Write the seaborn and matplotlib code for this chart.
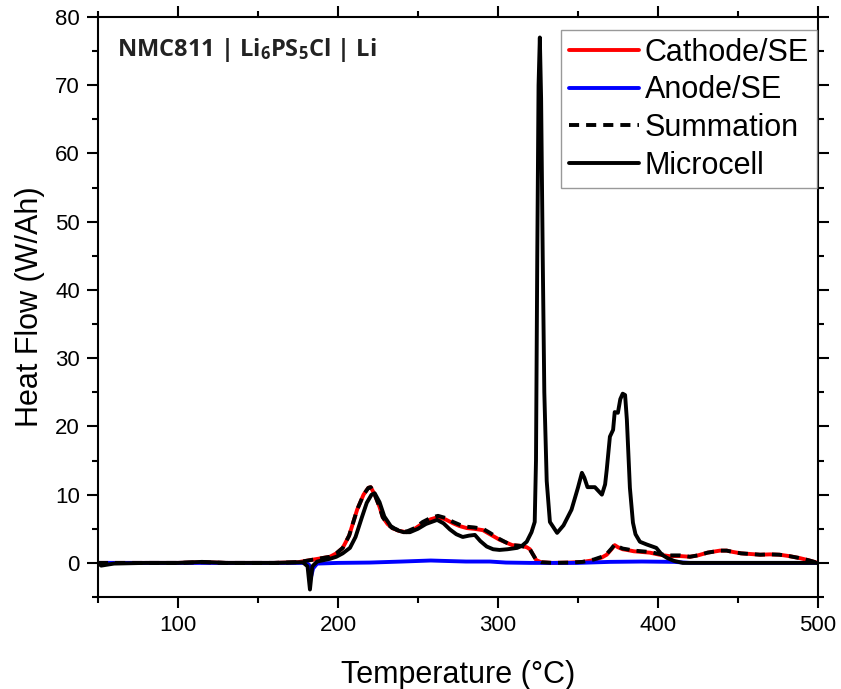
import pandas as pd
import seaborn as sns
import matplotlib.pyplot as plt
from matplotlib.ticker import MultipleLocator

# Microcell (black solid)
micro_x = [50, 52, 60, 80, 100, 115, 130, 160, 178, 181, 182.5, 184, 187, 195, 199, 203,
           207.5, 211, 215, 218, 221, 223, 226, 229, 233, 237, 241, 245, 250, 255, 262,
           266, 270, 274, 278, 282, 285.6, 289, 293, 297, 301, 306, 312, 315, 318, 321,
           323, 323.8, 324.6, 325.4, 326.2, 327, 328, 329, 330.5, 332.5, 337, 341, 346,
           350, 352.5, 354, 356, 360.6, 363, 365, 367, 368, 370, 372, 373, 375, 376.5,
           378, 379.5, 380.6, 382.5, 384.4, 386, 388.75, 393, 399, 402.5, 406, 410,
           415.6, 430, 460, 500]
micro_y = [0, -0.4, -0.1, 0, 0, 0.15, 0, 0, 0.1, -0.5, -3.9, -0.5, 0.2, 0.6, 0.9, 1.4,
           2.2, 3.8, 6.7, 8.8, 10.0, 10.2, 8.9, 6.8, 5.4, 4.8, 4.5, 4.5, 5.0, 5.7, 6.3,
           5.8, 4.9, 4.2, 3.8, 4.0, 4.1, 3.2, 2.4, 2.0, 1.9, 2.0, 2.2, 2.5, 3.1, 4.5,
           6.0, 15, 45, 70, 77, 68, 45, 25, 12, 6.0, 4.4, 5.5, 7.8,
           11, 13.2, 12.5, 11.1, 11.1, 10.5, 10.0, 11.5, 13.6, 18.5, 19.5, 22.1, 22, 24,
           24.8, 24.6, 21, 11, 5.9, 4.2, 3.1, 2.7, 2.2, 1.2, 0.7, 0.3,
           0.0, 0, 0, 0]

# Cathode/SE (red) and Summation (black dashed)
cath_x = [50, 60, 80, 100, 115, 130, 160, 175, 180, 185, 190, 195, 199, 203, 207, 212,
          216, 219, 220.5, 223, 226, 228, 231, 234, 238, 243, 248, 253, 258, 262.5, 267,
          272, 276, 280.6, 285, 290.6, 295, 301, 305, 309, 314, 318, 320, 322, 324, 327,
          334, 345, 353, 360, 365, 368, 371, 373, 375, 378, 380.6, 385, 390, 395, 401,
          407, 414, 420, 425, 431, 438.75, 443, 447, 452, 458, 464, 470, 476, 482,
          488.75, 494, 500]
cath_y = [0, 0, 0, 0, 0.1, 0, 0, 0.1, 0.3, 0.5, 0.7, 0.9, 1.4, 2.2, 4.0, 7.8,
          10.0, 11.0, 11.1, 10.0, 8.2, 6.7, 5.7, 5.1, 4.7, 4.5, 5.0, 5.8, 6.4, 6.7, 6.4,
          5.8, 5.4, 5.1, 5.0, 4.8, 4.2, 3.4, 3.0, 2.6, 2.5, 2.3, 2.0, 1.2, 0.4, 0.1,
          0.0, 0.05, 0.15, 0.4, 0.8, 1.2, 2.0, 2.6, 2.3, 2.0, 1.9, 1.7, 1.6, 1.5, 1.2,
          1.0, 1.0, 0.9, 1.1, 1.5, 1.8, 1.8, 1.6, 1.4, 1.3, 1.2, 1.25, 1.2, 1.0,
          0.7, 0.4, 0.0]
sum_y = [0, 0, 0, 0, 0.1, 0, 0, 0.1, 0.3, 0.5, 0.7, 0.9, 1.4, 2.2, 4.0, 7.8,
         10.0, 11.0, 11.1, 10.0, 8.2, 6.7, 5.7, 5.1, 4.8, 4.6, 5.1, 6.0, 6.6, 6.9, 6.6,
         6.0, 5.6, 5.3, 5.2, 5.0, 4.4, 3.5, 3.0, 2.6, 2.5, 2.3, 2.0, 1.2, 0.4, 0.1,
         0.0, 0.05, 0.15, 0.5, 0.9, 1.3, 2.1, 2.7, 2.4, 2.1, 2.0, 1.8, 1.7, 1.6, 1.3,
         1.1, 1.1, 0.9, 1.1, 1.5, 1.8, 1.8, 1.6, 1.4, 1.3, 1.2, 1.25, 1.2, 1.0,
         0.7, 0.4, 0.0]

# Anode/SE (blue)
anode_x = [50, 100, 150, 180, 182, 183, 184.5, 187, 200, 220, 240, 258, 265, 280, 295,
           305, 320, 350, 370, 390, 410, 420, 450, 500]
anode_y = [0, 0, 0, 0, -0.3, -2.2, -0.8, -0.1, 0.0, 0.05, 0.2, 0.35, 0.3, 0.2, 0.2,
           0.05, 0.0, 0.0, 0.15, 0.2, 0.15, 0.0, 0, 0]

sns.set_style("ticks")
plt.rcParams['font.family'] = ['Liberation Sans', 'DejaVu Sans']
plt.rcParams['mathtext.fontset'] = 'custom'
plt.rcParams['mathtext.bf'] = 'Open Sans:bold'
plt.rcParams['mathtext.default'] = 'bf'

fig = plt.figure(figsize=(8.41, 6.89), dpi=100)
ax = fig.add_axes([0.1165, 0.1335, 0.856, 0.8418])

lw = 2.8
sns.lineplot(x=cath_x, y=cath_y, color='red', lw=lw, label='Cathode/SE', ax=ax, estimator=None)
sns.lineplot(x=anode_x, y=anode_y, color='blue', lw=lw, label='Anode/SE', ax=ax, estimator=None)
sns.lineplot(x=cath_x, y=sum_y, color='black', lw=lw, ls=(0, (2.6, 1.8)), label='Summation',
             ax=ax, estimator=None)
sns.lineplot(x=micro_x, y=micro_y, color='black', lw=lw, label='Microcell', ax=ax, estimator=None)

ax.set_xlim(50, 500)
ax.set_ylim(-5, 80)
ax.xaxis.set_major_locator(MultipleLocator(100))
ax.xaxis.set_minor_locator(MultipleLocator(50))
ax.yaxis.set_major_locator(MultipleLocator(10))
ax.yaxis.set_minor_locator(MultipleLocator(5))
ax.tick_params(which='both', direction='out', top=True, right=True, width=1.5,
               labelsize=16, color='black', labelcolor='black')
ax.tick_params(which='major', length=8, pad=5)
ax.tick_params(which='minor', length=4)
for s in ax.spines.values():
    s.set_linewidth(1.5)
    s.set_color('black')
    s.set_visible(True)

ax.set_xlabel('Temperature (°C)', fontsize=22, labelpad=17, color='black')
ax.set_ylabel('Heat Flow (W/Ah)', fontsize=22, labelpad=7, color='black')

ax.text(0.026, 0.967, 'NMC811 | Li$_6$PS$_5$Cl | Li', transform=ax.transAxes,
        fontsize=17, fontweight='bold', family='Open Sans', va='top', ha='left', color='#222222')

leg = ax.legend(loc='upper right', bbox_to_anchor=(0.9986, 0.9776), borderaxespad=0,
                fontsize=22, frameon=True, fancybox=False, edgecolor='#808080',
                handlelength=2.3, handletextpad=0.2, labelspacing=0.25, borderpad=0.25)
leg.get_frame().set_linewidth(1.0)
for t in leg.get_texts():
    t.set_color('black')

plt.savefig('out.png', dpi=100)
